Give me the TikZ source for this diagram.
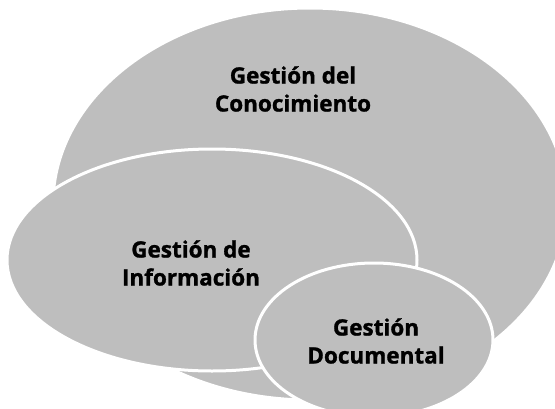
\documentclass[tikz,border=0pt]{standalone}
\usepackage{fontspec}
\setmainfont{Open Sans}[BoldFeatures={FakeBold=1.2}]
\usepackage{tikz}
\usetikzlibrary{shapes}
\tikzset{>=latex}
\definecolor{setgray}{RGB}{190,190,190}

\begin{document}
\begin{tikzpicture}
[x=1pt, y=-1pt,
 set/.style={ellipse, fill=setgray, draw=white, line width=3pt, inner sep=0pt},
 lbl/.style={font=\bfseries\fontsize{22.5}{28}\selectfont, align=center, text=black}]
\useasboundingbox (0,0) rectangle (555,408);
% the three sets, largest first
\node[set, minimum width=514pt, minimum height=392pt] (conoc) at (310,204) {};
\node[set, minimum width=410pt, minimum height=222pt] (info) at (212,260) {};
\node[set, minimum width=238pt, minimum height=154pt] (docum) at (374,340) {};
% labels
\node[lbl] (conoc-l) at (293,89) {Gestión del\\Conocimiento};
\node[lbl] (info-l) at (191,263) {Gestión de\\Información};
\node[lbl] (docum-l) at (376,341) {Gestión\\Documental};
\end{tikzpicture}
\end{document}
